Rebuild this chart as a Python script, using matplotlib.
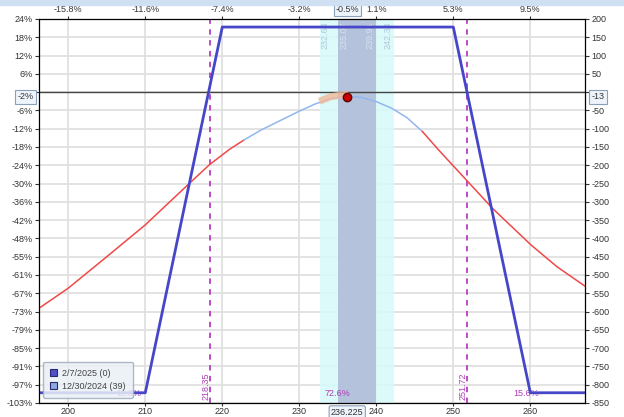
import numpy as np
import matplotlib
matplotlib.use("Agg")
import matplotlib.pyplot as plt
from matplotlib.patches import Rectangle, Patch

plt.rcParams['font.family'] = ['Liberation Sans', 'DejaVu Sans']

# ---- data ----
# expiration P/L (2/7/2025)
exp_x = [196.2, 210, 220, 250, 260, 267.1]
exp_pl = [-822, -822, 178, 178, -822, -822]

# T+0 P/L (12/30/2024)
t0_x = [196.2, 200, 205, 210, 215.5, 218.3, 220.9, 222.8, 225, 227.5, 230, 232, 234,
        236, 238, 240, 242, 244, 246, 248, 251.9, 255.1, 260.1, 263.5, 267.2]
t0_pl = [-591, -536, -450, -363, -254, -199, -157, -131, -104, -78, -52, -33, -18,
         -11, -14, -26, -44, -70, -108, -156, -245, -318, -418, -478, -532]
t0_inner = (222.8, 246.5)        # part of curve drawn light blue

price = 236.225
pl_now = -13
breakevens = [218.35, 251.72]
band_outer = (232.64, 242.34)
band_inner = (235.07, 239.91)
probs = [("11.8%", 207.9), ("72.6%", 235.0), ("15.6%", 259.5)]

x_ticks = [200, 210, 220, 230, 240, 250, 260]
top_labels = ["-15.8%", "-11.6%", "-7.4%", "-3.2%", "1.1%", "5.3%", "9.5%"]
y_ticks = list(range(-850, 201, 50))
left_labels = ["-103%", "-97%", "-91%", "-85%", "-79%", "-73%", "-67%", "-61%", "-55%",
               "-48%", "-42%", "-36%", "-30%", "-24%", "-18%", "-12%", "-6%", "",
               "6%", "12%", "18%", "24%"]
right_labels = [str(v) if v != 0 else "" for v in y_ticks]

xlim = (196.2, 267.1)
ylim = (-850, 200)

# ---- figure ----
fig = plt.figure(figsize=(6.24, 4.17), dpi=100)
fig.patches.append(Rectangle((0, 0.988), 1, 0.012, transform=fig.transFigure,
                             color='#cfe0f2', zorder=0))
ax = fig.add_axes([39 / 624, 14 / 417, 546 / 624, 384 / 417])
ax.set_xlim(*xlim)
ax.set_ylim(*ylim)

# grid
for xt in x_ticks:
    ax.axvline(xt, color='#e0e0e0', lw=1.3, zorder=0.2)
for yt in y_ticks:
    ax.axhline(yt, color='#e0e0e0', lw=1.3, zorder=0.2)

# bands (slightly transparent so grid shows faintly)
ax.axvspan(*band_outer, color='#d6fafa', alpha=0.85, zorder=0.5, lw=0)
ax.axvspan(*band_inner, color='#b1bfd9', alpha=0.92, zorder=0.6, lw=0)
ax.axhline(0, color='#444444', lw=1, zorder=2)

# band labels
for v, dx, c in [(band_outer[0], 0.75, '#b0c8dc'), (band_inner[0], 0.7, '#d8e2ee'),
                 (band_inner[1], -0.75, '#d8e2ee'), (band_outer[1], -0.75, '#b0c8dc')]:
    ax.text(v + dx, 193, f"{v:.2f}", rotation=90, ha='center', va='top',
            fontsize=6.5, color=c, zorder=3)

# breakevens
for b in breakevens:
    ax.axvline(b, color='#b83cc4', lw=1.3, ls=(0, (3, 3)), zorder=2.5)
    ax.text(b - 0.5, -843, f"{b:.2f}", rotation=90, ha='center', va='bottom',
            fontsize=6.5, color='#b03cb8', zorder=3)

# probabilities
for t, px in probs:
    ax.text(px, -823, t, ha='center', va='center', fontsize=6.5, color='#b03cb8', zorder=3)

# expiration line
ax.plot(exp_x, exp_pl, color='#4646c8', lw=2, zorder=4)

# T+0 curve: red outside, light blue inside
t0_x_arr = np.array(t0_x)
t0_pl_arr = np.array(t0_pl)
left = t0_x_arr <= t0_inner[0]
mid = (t0_x_arr >= t0_inner[0]) & (t0_x_arr <= t0_inner[1])
right = t0_x_arr >= 246
ax.plot(t0_x_arr[left], t0_pl_arr[left], color='#f04848', lw=1.1, zorder=3)
ax.plot(t0_x_arr[mid], t0_pl_arr[mid], color='#92b6f0', lw=1.1, zorder=3)
ax.plot(t0_x_arr[right], t0_pl_arr[right], color='#f04848', lw=1.1, zorder=3)

# highlight near current price
hl = (t0_x_arr >= 232) & (t0_x_arr <= price)
ax.plot(np.r_[232.6, t0_x_arr[hl][1:], price], np.r_[-30, t0_pl_arr[hl][1:], pl_now] + 5,
        color='#f2b898', lw=5, alpha=0.8, zorder=3.2, solid_capstyle='butt')
ax.plot([price], [pl_now], 'o', ms=6, mfc='#cc0000', mec='#5a0000', mew=1, zorder=5)

# axes styling
for s in ax.spines.values():
    s.set_color('#555555')
ax.set_xticks(x_ticks)
ax.set_xticklabels([str(v) for v in x_ticks])
ax.set_yticks(y_ticks)
ax.set_yticklabels(left_labels)
ax.tick_params(axis='both', labelsize=6.5, colors='#333333', length=3, pad=1.5,
               width=0.8)
ax.tick_params(axis='x', length=2, pad=1)

ax2 = ax.twinx()
ax2.set_ylim(*ylim)
ax2.set_yticks(y_ticks)
ax2.set_yticklabels(right_labels)
ax2.tick_params(labelsize=6.5, colors='#333333', length=3, pad=1.5, width=0.8)
for s in ax2.spines.values():
    s.set_color('#555555')

ax3 = ax.twiny()
ax3.set_xlim(*xlim)
ax3.set_xticks(x_ticks)
ax3.set_xticklabels(top_labels)
ax3.tick_params(labelsize=6.5, colors='#333333', length=2, pad=1.5, width=0.8)

# value boxes
ax.text(-0.01, pl_now, f"{pl_now / 822 * 100:.0f}%", transform=ax.get_yaxis_transform(),
        ha='right', va='center', fontsize=6.5, color='#333333',
        bbox=dict(boxstyle='square,pad=0.25', fc='#eef4fb', ec='#8aa0b8', lw=0.8),
        zorder=10, clip_on=False)
ax2.text(1.012, pl_now, str(pl_now), transform=ax2.get_yaxis_transform(),
         ha='left', va='center', fontsize=6.5, color='#333333',
         bbox=dict(boxstyle='square,pad=0.25', fc='#eef4fb', ec='#8aa0b8', lw=0.8),
         zorder=10, clip_on=False)
ax3.text(price, 1.012, "-0.5%", transform=ax3.get_xaxis_transform(), ha='center',
         va='bottom', fontsize=6.5, color='#333333',
         bbox=dict(boxstyle='square,pad=0.2', fc='#eef4fb', ec='#8aa0b8', lw=0.8),
         clip_on=False)
ax.text(price, -0.012, f"{price:.3f}", transform=ax.get_xaxis_transform(), ha='center',
        va='top', fontsize=6.5, color='#333333',
        bbox=dict(boxstyle='round,pad=0.2', fc='#eef4fb', ec='#8aa0b8', lw=0.8),
        clip_on=False)

# legend
handles = [Patch(fc='#5050c8', ec='#2a2a70', lw=0.8),
           Patch(fc='#8ea8e0', ec='#2a2a70', lw=0.8)]
leg = ax.legend(handles, ["2/7/2025 (0)", "12/30/2024 (39)"], loc='lower left',
                bbox_to_anchor=(0.007, 0.013), borderaxespad=0, fontsize=6.5,
                frameon=True, fancybox=True, handlelength=0.8, handleheight=0.8,
                handletextpad=0.5, borderpad=0.8, labelspacing=0.45,
                labelcolor='#444444')
leg.get_frame().set_facecolor('#eaf0f6')
leg.get_frame().set_edgecolor('#a0acbc')
leg.get_frame().set_alpha(0.85)
leg.set_zorder(8)

fig.savefig("out.png", dpi=100)
